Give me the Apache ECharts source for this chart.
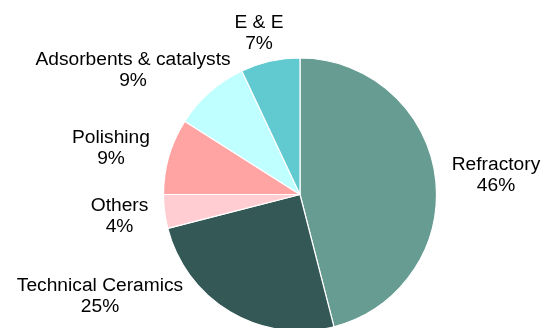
<!DOCTYPE html>
<html>
<head>
<meta charset="utf-8">
<script src="https://cdn.jsdelivr.net/npm/echarts@6/dist/echarts.min.js"></script>
<style>
html,body{margin:0;padding:0;background:#fff;}
#chart{width:548px;height:328px;}
</style>
</head>
<body>
<div id="chart"></div>
<script>
const categories = ["Refractory", "Technical Ceramics", "Others", "Polishing", "Adsorbents & catalysts", "E & E"];
const values = [46, 25, 4, 9, 9, 7];
const colors = ["#669C91", "#335856", "#FFCDD2", "#FFA3A3", "#C0FFFF", "#60CAD0"];
// label centres (layout only)
const labelX = [496, 100, 119.5, 111, 133, 259];
const labelY = [175, 296.3, 216.3, 148, 70.3, 33.3];

const chart = echarts.init(document.getElementById('chart'), null, {renderer: 'canvas'});
chart.setOption({
  animation: false,
  backgroundColor: '#ffffff',
  series: [{
    type: 'pie',
    center: [300, 194.5],
    radius: [0, 136.5],
    startAngle: 90,
    clockwise: true,
    avoidLabelOverlap: false,
    data: categories.map((c, i) => ({name: c, value: values[i], itemStyle: {color: colors[i]}})),
    itemStyle: {borderColor: '#ffffff', borderWidth: 1.2},
    label: {
      show: true,
      position: 'outside',
      formatter: p => p.name + '\n' + Math.round(p.percent) + '%',
      fontFamily: '"Liberation Sans", Arial, sans-serif',
      fontSize: 19.2,
      lineHeight: 21.5,
      color: '#000000',
      align: 'center'
    },
    labelLine: {show: false},
    labelLayout: function (params) {
      const i = params.dataIndex;
      return {x: labelX[i], y: labelY[i], align: 'center', verticalAlign: 'middle', hideOverlap: false};
    },
    emphasis: {disabled: true}
  }]
});
</script>
</body>
</html>
